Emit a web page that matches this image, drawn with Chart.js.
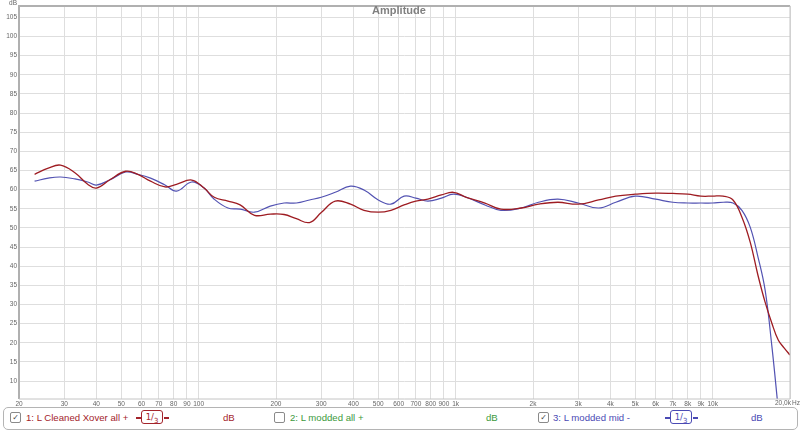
<!DOCTYPE html>
<html>
<head>
<meta charset="utf-8">
<script src="https://cdn.jsdelivr.net/npm/chart.js@4.4.1/dist/chart.umd.min.js"></script>
<style>
  html, body { margin: 0; padding: 0; background: #fff; }
  #wrap { position: relative; width: 800px; height: 431px; overflow: hidden; }
  #wrap canvas { position: absolute; left: 0; top: 0; }
  #legend { position: absolute; left: 3px; top: 407px; width: 793px; height: 21px;
    border: 1px solid #b4b4b4; border-radius: 5px; background: #fff; }
  .it { position: absolute; top: 411px; font: 9.6px "Liberation Sans", Arial, sans-serif; line-height: 13px; white-space: nowrap; }
  .cb { position: absolute; top: 412px; width: 9px; height: 9px; border: 1px solid #8a8a8a; border-radius: 2px;
    background: #fff; font: 8px "DejaVu Sans", sans-serif; line-height: 9px; text-align: center; color: #444; }
  .frac { position: absolute; top: 410px; height: 14px; }
  .frac .box { position: absolute; left: 5px; top: 0; width: 20px; height: 12px; border: 1.5px solid; border-radius: 3px;
    font: 8.5px "DejaVu Sans", sans-serif; line-height: 12px; text-align: center; }
  .frac .stub { position: absolute; top: 7px; width: 5px; height: 1.5px; }
</style>
</head>
<body>
<div id="wrap">
  <canvas id="chart" width="800" height="431"></canvas>
  <div id="legend"></div>
  <div class="cb" style="left:10px">&#10003;</div>
  <div class="it" style="left:26px;color:#a3232b">1: L Cleaned Xover all +</div>
  <div class="frac" style="left:136px;color:#a3232b"><div class="stub" style="left:0;background:#a3232b"></div><div class="box">1/<sub style="font-size:7px">3</sub></div><div class="stub" style="left:28px;background:#a3232b"></div></div>
  <div class="it" style="left:223px;color:#a3232b">dB</div>
  <div class="cb" style="left:274px"></div>
  <div class="it" style="left:290px;color:#3c9a3c">2: L modded all +</div>
  <div class="it" style="left:486px;color:#3c9a3c">dB</div>
  <div class="cb" style="left:538px">&#10003;</div>
  <div class="it" style="left:553px;color:#4a4ab4">3: L modded mid -</div>
  <div class="frac" style="left:665px;color:#4a4ab4"><div class="stub" style="left:0;background:#4a4ab4"></div><div class="box">1/<sub style="font-size:7px">3</sub></div><div class="stub" style="left:28px;background:#4a4ab4"></div></div>
  <div class="it" style="left:751px;color:#4a4ab4">dB</div>
</div>
<script>
// frequency points (Hz)
const freqHz = [23, 26, 29, 33, 37, 40, 45, 52, 58, 65,
  74, 82, 94, 105, 115, 130, 145, 165, 190, 215,
  240, 270, 300, 340, 390, 440, 500, 560, 630, 700,
  780, 880, 980, 1100, 1300, 1500, 1800, 2100, 2500, 3000,
  3600, 4200, 5000, 6000, 7000, 8000, 9000, 10000, 11000, 12000,
  13000, 14000, 15000, 16000, 17000, 18000, 19000, 20000];

// 1: L Cleaned Xover all +
const cleanedDb = [64.0, 65.6, 66.4, 64.4, 61.4, 60.4, 62.5, 64.8, 64.0, 62.2,
  60.7, 61.4, 62.5, 60.4, 58.0, 57.0, 56.0, 53.3, 53.6, 53.5,
  52.4, 51.4, 54.0, 57.0, 56.2, 54.6, 54.1, 54.6, 56.0, 57.0,
  57.5, 58.6, 59.3, 58.0, 56.5, 54.9, 55.2, 56.2, 56.7, 56.2,
  57.3, 58.3, 58.8, 59.1, 59.0, 58.8, 58.3, 58.3, 58.3, 57.3,
  52.8, 46.3, 37.7, 30.6, 25.1, 20.7, 18.6, 16.8];

// 3: L modded mid -
const moddedMidDb = [62.2, 63.0, 63.3, 62.8, 62.0, 61.2, 62.5, 64.6, 64.0, 63.0,
  61.2, 59.6, 62.0, 60.4, 57.5, 55.2, 54.9, 54.1, 55.7, 56.5,
  56.5, 57.3, 58.0, 59.3, 60.9, 59.9, 57.3, 56.2, 58.3, 57.8,
  57.0, 57.8, 58.8, 58.0, 56.0, 54.6, 55.2, 56.7, 57.5, 56.5,
  55.2, 56.7, 58.3, 57.5, 56.7, 56.5, 56.5, 56.5, 56.7, 56.5,
  54.6, 50.2, 42.5, 33.8, 19.1, 2.7, null, null];

const xTicks = [20, 30, 40, 50, 60, 70, 80, 90, 100, 200, 300, 400, 500, 600, 700, 800, 900,
  1000, 2000, 3000, 4000, 5000, 6000, 7000, 8000, 9000, 10000, 20000];
const xTickLabels = ['20', '30', '40', '50', '60', '70', '80', '90', '100', '200', '300', '400', '500', '600', '700', '800', '900',
  '1k', '2k', '3k', '4k', '5k', '6k', '7k', '8k', '9k', '10k', ''];
const yTicks = [10, 15, 20, 25, 30, 35, 40, 45, 50, 55, 60, 65, 70, 75, 80, 85, 90, 95, 100, 105];

const tickFont = { family: 'Liberation Sans', size: 6.5 };

const frame = {
  id: 'frame',
  afterDraw(chart) {
    const ctx = chart.ctx, a = chart.chartArea;
    ctx.save();
    ctx.strokeStyle = '#b0b0b0';
    ctx.lineWidth = 2;
    ctx.beginPath();
    ctx.moveTo(a.left, a.bottom); ctx.lineTo(a.left, a.top); ctx.lineTo(a.right, a.top);
    ctx.stroke();
    ctx.lineWidth = 1;
    ctx.strokeStyle = '#c4c4c4';
    ctx.beginPath();
    ctx.moveTo(a.right, a.top); ctx.lineTo(a.right, a.bottom); ctx.lineTo(a.left, a.bottom);
    ctx.stroke();
    ctx.fillStyle = '#808080';
    ctx.font = 'bold 11px "Liberation Sans"';
    ctx.textAlign = 'center';
    ctx.textBaseline = 'middle';
    ctx.fillText('Amplitude', 399, 11);
    ctx.font = '6.5px "Liberation Sans"';
    ctx.fillStyle = '#666';
    ctx.textAlign = 'right';
    ctx.fillText('dB', 17, 3);
    ctx.textAlign = 'left';
    ctx.textBaseline = 'top';
    ctx.fillText('20,0k', 775, 400);
    ctx.fillText('Hz', 792, 400);
    ctx.restore();
  }
};

new Chart(document.getElementById('chart').getContext('2d'), {
  type: 'line',
  data: {
    labels: freqHz,
    datasets: [
      { label: '1: L Cleaned Xover all +', data: cleanedDb, borderColor: '#9e1c22', borderWidth: 1.3 },
      { label: '3: L modded mid -', data: moddedMidDb, borderColor: '#5252b2', borderWidth: 1.2 }
    ]
  },
  options: {
    responsive: false,
    animation: false,
    elements: { point: { radius: 0 }, line: { tension: 0.4 } },
    layout: { padding: { left: 0, right: 10, top: 5, bottom: 22 } },
    plugins: { legend: { display: false }, tooltip: { enabled: false } },
    scales: {
      x: {
        type: 'logarithmic',
        min: 20, max: 20000,
        afterBuildTicks: s => { s.ticks = xTicks.map(v => ({ value: v })); },
        afterFit: s => { s.height = 10; s.paddingLeft = 0; s.paddingRight = 0; },
        ticks: { autoSkip: false, maxRotation: 0, padding: 1, font: tickFont, color: '#666',
          callback: (v, i) => xTickLabels[i] },
        grid: { color: '#dedede', lineWidth: 1, drawTicks: false },
        border: { display: false }
      },
      y: {
        min: 5.3, max: 108,
        afterBuildTicks: s => { s.ticks = yTicks.map(v => ({ value: v })); },
        afterFit: s => { s.width = 19; },
        ticks: { padding: 2, font: tickFont, color: '#666' },
        grid: { color: '#dedede', lineWidth: 1, drawTicks: false },
        border: { display: false }
      }
    }
  },
  plugins: [frame]
});
</script>
</body>
</html>
